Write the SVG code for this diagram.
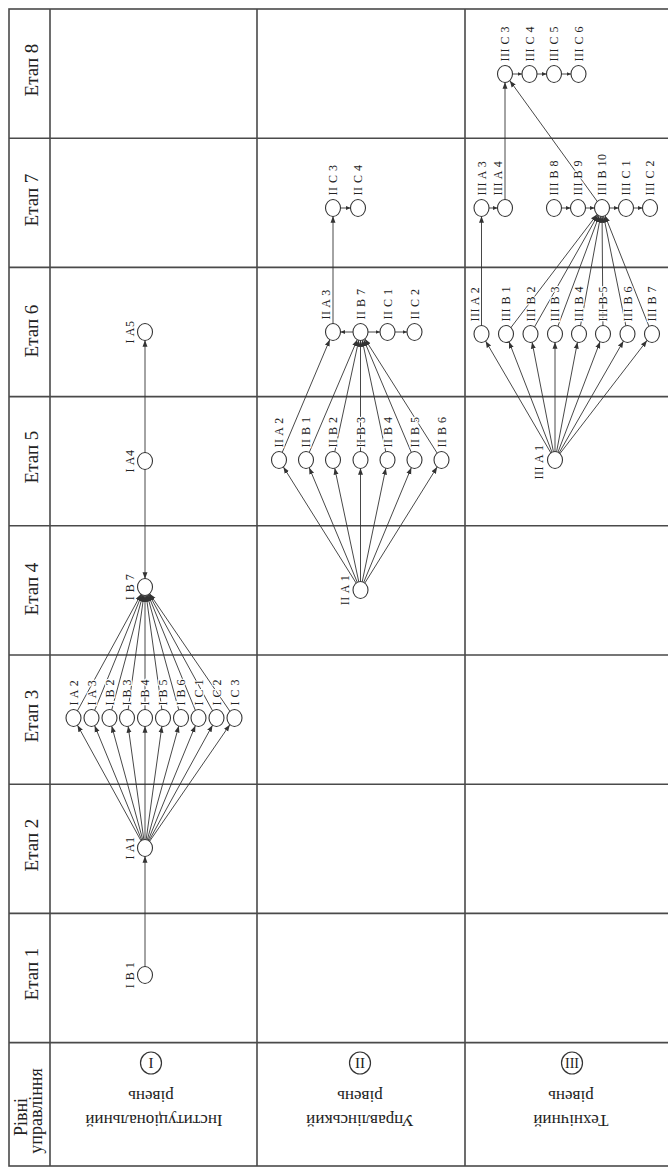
<svg xmlns="http://www.w3.org/2000/svg" width="668" height="1168" viewBox="0 0 668 1168">
<style>
.grid{stroke:#4a4a4a;stroke-width:1.6;fill:none}
.c{stroke:#333;stroke-width:0.9;fill:none;marker-end:url(#a)}
.s{stroke:#333;stroke-width:0.9;fill:none;marker-end:url(#s)}
.n{fill:#fff;stroke:#333;stroke-width:1.1}
.lb{font-family:"Liberation Serif",serif;font-size:12px;letter-spacing:0.5px;fill:#222;dominant-baseline:central;paint-order:stroke;stroke:#fff;stroke-width:2.4px;stroke-linejoin:round}
.m{text-anchor:middle}
.st{font-family:"Liberation Serif",serif;font-size:19px;fill:#222;text-anchor:middle;dominant-baseline:central}
.lv{font-family:"Liberation Serif",serif;font-size:17px;fill:#222;text-anchor:middle;dominant-baseline:central}
.rc{fill:none;stroke:#333;stroke-width:1.2}
.rn{font-family:"Liberation Serif",serif;font-size:15px;fill:#222;text-anchor:middle;dominant-baseline:central}
</style>
<defs>
<marker id="a" viewBox="0 0 20 10" markerWidth="20" markerHeight="10" refX="14.8" refY="5" orient="auto" markerUnits="userSpaceOnUse"><path d="M0,2.5 L6.5,5 L0,7.5 z" fill="#333"/></marker>
<marker id="s" viewBox="0 0 6 6" markerWidth="6" markerHeight="6" refX="4.5" refY="3" orient="auto" markerUnits="userSpaceOnUse"><path d="M0,1 L4.5,3 L0,5 z" fill="#333"/></marker>
</defs>
<rect width="668" height="1168" fill="#fff"/>
<g id="table">
<rect class="grid" x="9" y="9" width="664" height="1157"/>
<path class="grid" d="M50,9 V1166 M257,9 V1166 M465,9 V1166 M9,138.2 H673 M9,267.4 H673 M9,396.6 H673 M9,525.8 H673 M9,655 H673 M9,784.2 H673 M9,913.4 H673 M9,1042.6 H673"/>
</g>
<g id="stage-labels">
<text class="st" transform="translate(31,70) rotate(-90)">Етап 8</text>
<text class="st" transform="translate(31,200) rotate(-90)">Етап 7</text>
<text class="st" transform="translate(31,331) rotate(-90)">Етап 6</text>
<text class="st" transform="translate(31,457) rotate(-90)">Етап 5</text>
<text class="st" transform="translate(31,589) rotate(-90)">Етап 4</text>
<text class="st" transform="translate(31,716) rotate(-90)">Етап 3</text>
<text class="st" transform="translate(31,845) rotate(-90)">Етап 2</text>
<text class="st" transform="translate(31,974) rotate(-90)">Етап 1</text>
<text class="lv" style="font-size:18px" transform="translate(21,1117) rotate(-90)">Рівні</text>
<text class="lv" style="font-size:18px" transform="translate(36,1111) rotate(-90)">управління</text>
</g>
<g id="level-1">
<ellipse class="rc" cx="151" cy="1063" rx="10.5" ry="11"/>
<text class="rn" x="151" y="1063">I</text>
<text class="lv" transform="translate(151,1096) rotate(180)">рівень</text>
<text class="lv" transform="translate(154,1120) rotate(180)">Інституціональний</text>
</g>
<g id="level-2">
<ellipse class="rc" cx="360" cy="1063" rx="10.5" ry="11"/>
<text class="rn" x="360" y="1063">II</text>
<text class="lv" transform="translate(360,1096) rotate(180)">рівень</text>
<text class="lv" transform="translate(360,1120) rotate(180)">Управлінський</text>
</g>
<g id="level-3">
<ellipse class="rc" cx="572" cy="1063" rx="10.5" ry="11"/>
<text class="rn" style="font-size:14px" x="572" y="1063">III</text>
<text class="lv" transform="translate(571,1096) rotate(180)">рівень</text>
<text class="lv" transform="translate(571,1120) rotate(180)">Технічний</text>
</g>
<g id="connectors">
<path class="c" d="M145,975 L145,848"/>
<path class="c" d="M145,848 L73.5,718"/>
<path class="c" d="M145,848 L91.5,718"/>
<path class="c" d="M145,848 L109.5,718"/>
<path class="c" d="M145,848 L127,718"/>
<path class="c" d="M145,848 L145,718"/>
<path class="c" d="M145,848 L163,718"/>
<path class="c" d="M145,848 L181,718"/>
<path class="c" d="M145,848 L198.5,718"/>
<path class="c" d="M145,848 L216.5,718"/>
<path class="c" d="M145,848 L234.5,718"/>
<path class="c" d="M73.5,718 L145,587"/>
<path class="c" d="M91.5,718 L145,587"/>
<path class="c" d="M109.5,718 L145,587"/>
<path class="c" d="M127,718 L145,587"/>
<path class="c" d="M145,718 L145,587"/>
<path class="c" d="M163,718 L145,587"/>
<path class="c" d="M181,718 L145,587"/>
<path class="c" d="M198.5,718 L145,587"/>
<path class="c" d="M216.5,718 L145,587"/>
<path class="c" d="M234.5,718 L145,587"/>
<path class="c" d="M145,461 L145,587"/>
<path class="c" d="M145,461 L145,332"/>
<path class="c" d="M360.5,590 L279,460"/>
<path class="c" d="M360.5,590 L306,460"/>
<path class="c" d="M360.5,590 L333,460"/>
<path class="c" d="M360.5,590 L360.5,460"/>
<path class="c" d="M360.5,590 L387.5,460"/>
<path class="c" d="M360.5,590 L414.5,460"/>
<path class="c" d="M360.5,590 L441.5,460"/>
<path class="c" d="M279,460 L333,332"/>
<path class="c" d="M306,460 L360.5,332"/>
<path class="c" d="M333,460 L360.5,332"/>
<path class="c" d="M360.5,460 L360.5,332"/>
<path class="c" d="M387.5,460 L360.5,332"/>
<path class="c" d="M414.5,460 L360.5,332"/>
<path class="c" d="M441.5,460 L360.5,332"/>
<path class="s" d="M353,332 L340.5,332"/>
<path class="s" d="M368,332 L380,332"/>
<path class="s" d="M395,332 L407,332"/>
<path class="c" d="M333,332 L333,208"/>
<path class="s" d="M340.5,208 L350.5,208"/>
<path class="c" d="M555,460 L481.5,334"/>
<path class="c" d="M555,460 L506,334"/>
<path class="c" d="M555,460 L530.5,334"/>
<path class="c" d="M555,460 L555,334"/>
<path class="c" d="M555,460 L579,334"/>
<path class="c" d="M555,460 L603,334"/>
<path class="c" d="M555,460 L627.5,334"/>
<path class="c" d="M555,460 L652,334"/>
<path class="c" d="M481.5,334 L481.5,208"/>
<path class="c" d="M506,334 L602,208"/>
<path class="c" d="M530.5,334 L602,208"/>
<path class="c" d="M555,334 L602,208"/>
<path class="c" d="M579,334 L602,208"/>
<path class="c" d="M603,334 L602,208"/>
<path class="c" d="M627.5,334 L602,208"/>
<path class="c" d="M652,334 L602,208"/>
<path class="s" d="M489,208 L497.5,208"/>
<path class="s" d="M561.5,208 L570.5,208"/>
<path class="s" d="M585.5,208 L594.5,208"/>
<path class="s" d="M609.5,208 L618.5,208"/>
<path class="s" d="M633.5,208 L642.5,208"/>
<path class="c" d="M505,208 L505,74"/>
<path class="c" d="M602,208 L505,74"/>
<path class="s" d="M512.5,74 L522,74"/>
<path class="s" d="M537,74 L546.5,74"/>
<path class="s" d="M561.5,74 L571,74"/>
</g>
<g id="n-IB1"><ellipse class="n" cx="145" cy="975" rx="7.5" ry="8.5"/><text class="lb m" transform="translate(130,975) rotate(-90)">I B 1</text></g>
<g id="n-IA1"><ellipse class="n" cx="145" cy="848" rx="7.5" ry="8.5"/><text class="lb m" transform="translate(130,848) rotate(-90)">I A1</text></g>
<g id="n-IA2"><ellipse class="n" cx="73.5" cy="718" rx="7.5" ry="8.5"/><text class="lb" transform="translate(73.5,705.5) rotate(-90)">I A 2</text></g>
<g id="n-IA3"><ellipse class="n" cx="91.5" cy="718" rx="7.5" ry="8.5"/><text class="lb" transform="translate(91.5,705.5) rotate(-90)">I A 3</text></g>
<g id="n-IB2"><ellipse class="n" cx="109.5" cy="718" rx="7.5" ry="8.5"/><text class="lb" transform="translate(109.5,705.5) rotate(-90)">I B 2</text></g>
<g id="n-IB3"><ellipse class="n" cx="127" cy="718" rx="7.5" ry="8.5"/><text class="lb" transform="translate(127,705.5) rotate(-90)">I B 3</text></g>
<g id="n-IB4"><ellipse class="n" cx="145" cy="718" rx="7.5" ry="8.5"/><text class="lb" transform="translate(145,705.5) rotate(-90)">I B 4</text></g>
<g id="n-IB5"><ellipse class="n" cx="163" cy="718" rx="7.5" ry="8.5"/><text class="lb" transform="translate(163,705.5) rotate(-90)">I B 5</text></g>
<g id="n-IB6"><ellipse class="n" cx="181" cy="718" rx="7.5" ry="8.5"/><text class="lb" transform="translate(181,705.5) rotate(-90)">I B 6</text></g>
<g id="n-IC1"><ellipse class="n" cx="198.5" cy="718" rx="7.5" ry="8.5"/><text class="lb" transform="translate(198.5,705.5) rotate(-90)">I C 1</text></g>
<g id="n-IC2"><ellipse class="n" cx="216.5" cy="718" rx="7.5" ry="8.5"/><text class="lb" transform="translate(216.5,705.5) rotate(-90)">I C 2</text></g>
<g id="n-IC3"><ellipse class="n" cx="234.5" cy="718" rx="7.5" ry="8.5"/><text class="lb" transform="translate(234.5,705.5) rotate(-90)">I C 3</text></g>
<g id="n-IB7"><ellipse class="n" cx="145" cy="587" rx="7.5" ry="8.5"/><text class="lb m" transform="translate(130,587) rotate(-90)">I B 7</text></g>
<g id="n-IA4"><ellipse class="n" cx="145" cy="461" rx="7.5" ry="8.5"/><text class="lb m" transform="translate(130,461) rotate(-90)">I A4</text></g>
<g id="n-IA5"><ellipse class="n" cx="145" cy="332" rx="7.5" ry="8.5"/><text class="lb m" transform="translate(130,332) rotate(-90)">I A5</text></g>
<g id="n-IIA1"><ellipse class="n" cx="360.5" cy="590" rx="7.5" ry="8.5"/><text class="lb m" transform="translate(345,590) rotate(-90)">II A 1</text></g>
<g id="n-IIA2"><ellipse class="n" cx="279" cy="460" rx="7.5" ry="8.5"/><text class="lb" transform="translate(279,447.5) rotate(-90)">II A 2</text></g>
<g id="n-IIB1"><ellipse class="n" cx="306" cy="460" rx="7.5" ry="8.5"/><text class="lb" transform="translate(306,447.5) rotate(-90)">II B 1</text></g>
<g id="n-IIB2"><ellipse class="n" cx="333" cy="460" rx="7.5" ry="8.5"/><text class="lb" transform="translate(333,447.5) rotate(-90)">II B 2</text></g>
<g id="n-IIB3"><ellipse class="n" cx="360.5" cy="460" rx="7.5" ry="8.5"/><text class="lb" transform="translate(360.5,447.5) rotate(-90)">II B 3</text></g>
<g id="n-IIB4"><ellipse class="n" cx="387.5" cy="460" rx="7.5" ry="8.5"/><text class="lb" transform="translate(387.5,447.5) rotate(-90)">II B 4</text></g>
<g id="n-IIB5"><ellipse class="n" cx="414.5" cy="460" rx="7.5" ry="8.5"/><text class="lb" transform="translate(414.5,447.5) rotate(-90)">II B 5</text></g>
<g id="n-IIB6"><ellipse class="n" cx="441.5" cy="460" rx="7.5" ry="8.5"/><text class="lb" transform="translate(441.5,447.5) rotate(-90)">II B 6</text></g>
<g id="n-IIA3"><ellipse class="n" cx="333" cy="332" rx="7.5" ry="8.5"/><text class="lb" transform="translate(326,319.5) rotate(-90)">II A 3</text></g>
<g id="n-IIB7"><ellipse class="n" cx="360.5" cy="332" rx="7.5" ry="8.5"/><text class="lb" transform="translate(360.5,319.5) rotate(-90)">II B 7</text></g>
<g id="n-IIC1"><ellipse class="n" cx="387.5" cy="332" rx="7.5" ry="8.5"/><text class="lb" transform="translate(387.5,319.5) rotate(-90)">II C 1</text></g>
<g id="n-IIC2"><ellipse class="n" cx="414.5" cy="332" rx="7.5" ry="8.5"/><text class="lb" transform="translate(414.5,319.5) rotate(-90)">II C 2</text></g>
<g id="n-IIC3"><ellipse class="n" cx="333" cy="208" rx="7.5" ry="8.5"/><text class="lb" transform="translate(333,195.5) rotate(-90)">II C 3</text></g>
<g id="n-IIC4"><ellipse class="n" cx="358" cy="208" rx="7.5" ry="8.5"/><text class="lb" transform="translate(358,195.5) rotate(-90)">II C 4</text></g>
<g id="n-IIIA1"><ellipse class="n" cx="555" cy="460" rx="7.5" ry="8.5"/><text class="lb m" transform="translate(539,462) rotate(-90)">III A 1</text></g>
<g id="n-IIIA2"><ellipse class="n" cx="481.5" cy="334" rx="7.5" ry="8.5"/><text class="lb" transform="translate(474.5,321.5) rotate(-90)">III A 2</text></g>
<g id="n-IIIB1"><ellipse class="n" cx="506" cy="334" rx="7.5" ry="8.5"/><text class="lb" transform="translate(506,321.5) rotate(-90)">III B 1</text></g>
<g id="n-IIIB2"><ellipse class="n" cx="530.5" cy="334" rx="7.5" ry="8.5"/><text class="lb" transform="translate(530.5,321.5) rotate(-90)">III B 2</text></g>
<g id="n-IIIB3"><ellipse class="n" cx="555" cy="334" rx="7.5" ry="8.5"/><text class="lb" transform="translate(555,321.5) rotate(-90)">III B 3</text></g>
<g id="n-IIIB4"><ellipse class="n" cx="579" cy="334" rx="7.5" ry="8.5"/><text class="lb" transform="translate(579,321.5) rotate(-90)">III B 4</text></g>
<g id="n-IIIB5"><ellipse class="n" cx="603" cy="334" rx="7.5" ry="8.5"/><text class="lb" transform="translate(603,321.5) rotate(-90)">III B 5</text></g>
<g id="n-IIIB6"><ellipse class="n" cx="627.5" cy="334" rx="7.5" ry="8.5"/><text class="lb" transform="translate(627.5,321.5) rotate(-90)">III B 6</text></g>
<g id="n-IIIB7"><ellipse class="n" cx="652" cy="334" rx="7.5" ry="8.5"/><text class="lb" transform="translate(652,321.5) rotate(-90)">III B 7</text></g>
<g id="n-IIIA3"><ellipse class="n" cx="481.5" cy="208" rx="7.5" ry="8.5"/><text class="lb" transform="translate(481.5,195.5) rotate(-90)">III A 3</text></g>
<g id="n-IIIA4"><ellipse class="n" cx="505" cy="208" rx="7.5" ry="8.5"/><text class="lb" transform="translate(498,195.5) rotate(-90)">III A 4</text></g>
<g id="n-IIIB8"><ellipse class="n" cx="554" cy="208" rx="7.5" ry="8.5"/><text class="lb" transform="translate(554,195.5) rotate(-90)">III B 8</text></g>
<g id="n-IIIB9"><ellipse class="n" cx="578" cy="208" rx="7.5" ry="8.5"/><text class="lb" transform="translate(578,195.5) rotate(-90)">III B 9</text></g>
<g id="n-IIIB10"><ellipse class="n" cx="602" cy="208" rx="7.5" ry="8.5"/><text class="lb" transform="translate(602,195.5) rotate(-90)">III B 10</text></g>
<g id="n-IIIC1"><ellipse class="n" cx="626" cy="208" rx="7.5" ry="8.5"/><text class="lb" transform="translate(626,195.5) rotate(-90)">III C 1</text></g>
<g id="n-IIIC2"><ellipse class="n" cx="650" cy="208" rx="7.5" ry="8.5"/><text class="lb" transform="translate(650,195.5) rotate(-90)">III C 2</text></g>
<g id="n-IIIC3"><ellipse class="n" cx="505" cy="74" rx="7.5" ry="8.5"/><text class="lb" transform="translate(505,61.5) rotate(-90)">III C 3</text></g>
<g id="n-IIIC4"><ellipse class="n" cx="529.5" cy="74" rx="7.5" ry="8.5"/><text class="lb" transform="translate(529.5,61.5) rotate(-90)">III C 4</text></g>
<g id="n-IIIC5"><ellipse class="n" cx="554" cy="74" rx="7.5" ry="8.5"/><text class="lb" transform="translate(554,61.5) rotate(-90)">III C 5</text></g>
<g id="n-IIIC6"><ellipse class="n" cx="578.5" cy="74" rx="7.5" ry="8.5"/><text class="lb" transform="translate(578.5,61.5) rotate(-90)">III C 6</text></g>
</svg>
